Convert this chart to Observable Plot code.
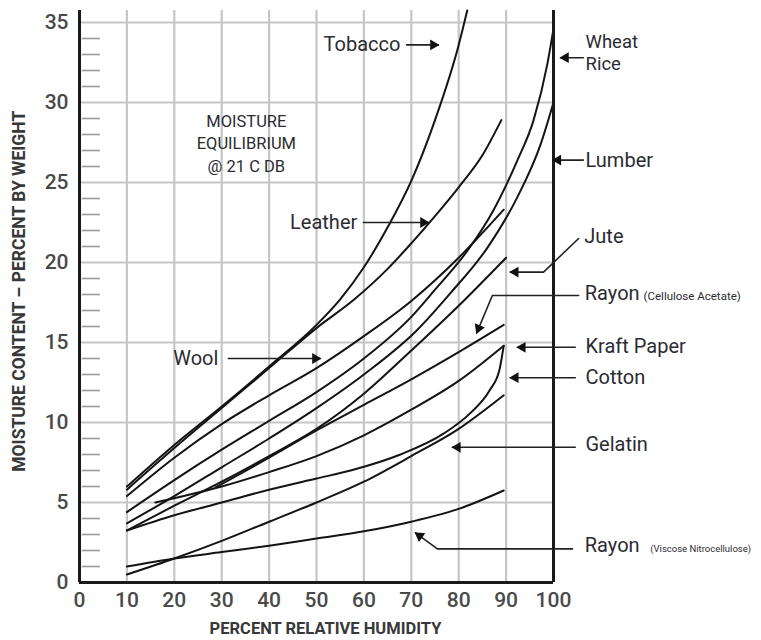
<!DOCTYPE html>
<html><head><meta charset="utf-8">
<script src="https://cdn.jsdelivr.net/npm/d3@7"></script>
<script src="https://cdn.jsdelivr.net/npm/@observablehq/plot@0.6"></script>
<style>body{margin:0;background:#fff}svg{display:block}</style>
</head><body><div id="chart"></div>
<script>
// ---- curve data: [relative humidity %, moisture content %] ----
const tobacco = [[10,6.0],[20,8.6],[30,11.0],[40,13.5],[50,16.1],[55,17.7],[60,19.7],[65,22.2],[70,25.1],[75,28.9],[80,33.6],[81.8,35.75]];
const leather = [[10,5.8],[20,8.4],[30,10.9],[40,13.4],[50,15.9],[58,17.7],[65,19.6],[70,21.2],[75,22.9],[80,24.7],[85,26.7],[89,28.9]];
const wool    = [[10,5.4],[20,7.8],[30,9.9],[40,11.7],[50,13.4],[60,15.4],[70,17.6],[80,20.3],[89.5,23.3]];
const wheat   = [[10,4.4],[20,6.4],[30,8.3],[40,10.1],[50,11.9],[60,14.0],[70,16.6],[75,18.3],[82,20.8],[87.4,23.3],[92.4,26.4],[95.8,28.9],[98.7,32.4],[100,34.6]];
const lumber  = [[10,3.7],[20,5.4],[30,7.2],[40,9.0],[50,10.9],[60,13.0],[71.3,15.8],[78.3,18.1],[86,20.9],[92.4,24.1],[97.3,27.4],[100,30.0]];
const jute    = [[10,3.25],[20,4.8],[30,6.3],[40,7.9],[50,9.6],[60,11.8],[70,14.5],[80,17.3],[90,20.3]];
const rayonCA = [[28.7,5.95],[40,7.8],[50,9.5],[60,11.1],[70,12.7],[80,14.4],[89.5,16.1]];
const kraft   = [[16,5.0],[30,6.0],[40,6.9],[50,7.9],[60,9.2],[70,10.8],[80,12.6],[89.5,14.8]];
const cotton  = [[10,3.25],[20,4.2],[30,5.0],[40,5.8],[50,6.5],[57.2,7.0],[67.7,8.0],[76.8,9.3],[82.5,10.6],[86.5,12.0],[88.6,13.3],[89.5,14.8]];
const gelatin = [[10,0.5],[20,1.5],[30,2.6],[40,3.8],[50,5.0],[60,6.3],[70,7.9],[80,9.6],[89.5,11.7]];
const rayonVN = [[10,1.0],[20,1.5],[30,1.9],[40,2.3],[50,2.75],[60,3.2],[70,3.8],[80,4.6],[89.5,5.75]];

const curves = [["Tobacco",tobacco],["Leather",leather],["Wool",wool],["Wheat",wheat],["Lumber",lumber],["Jute",jute],["RayonCA",rayonCA],["Kraft",kraft],["Cotton",cotton],["Gelatin",gelatin],["RayonVN",rayonVN]];
const curveRows = curves.flatMap(([name, pts]) => pts.map(([rh, mc]) => ({name, rh, mc})));

// ---- ticks ----
const xTicks = [0,10,20,30,40,50,60,70,80,90,100];
const yTicks = [0,5,10,15,20,25,30,35];
const minorY = d3.range(1,36).filter(d => d % 5 !== 0);

// ---- annotation texts (in data coordinates) ----
const leftLabels = [
  {t:"Tobacco", x:67.7, y:33.6},
  {t:"Leather", x:58.6, y:22.5},
  {t:"Wool",    x:29.3, y:14.0}
];
const noteLines = [
  {t:"MOISTURE",    x:35.2, y:28.8},
  {t:"EQUILIBRIUM", x:35.2, y:27.44},
  {t:"@ 21 C DB",   x:35.2, y:26.0}
];
const rightLabels = [
  {t:"Lumber",      x:106.75, y:26.4},
  {t:"Jute",        x:106.5,  y:21.6},
  {t:"Rayon",       x:106.6,  y:18.06},
  {t:"Kraft Paper", x:106.75, y:14.75},
  {t:"Cotton",      x:106.75, y:12.8},
  {t:"Gelatin",     x:106.75, y:8.6},
  {t:"Rayon",       x:106.6,  y:2.3}
];
const stackedLabels = [
  {t:"Wheat", x:106.75, y:33.8},
  {t:"Rice",  x:106.75, y:32.4}
];
const smallLabels = [
  {t:"(Cellulose Acetate)", x:119.0, y:17.86, size:11.5},
  {t:"(Viscose Nitrocellulose)", x:120.4, y:2.12, size:9.5}
];
const arrows = [
  ["tobacco", [[69.0,33.6],[75.7,33.6]]],
  ["leather", [[59.9,22.5],[73.6,22.5]]],
  ["wool",    [[31.4,14.0],[50.8,14.0]]],
  ["wheat",   [[106.3,32.8],[101.5,32.8]]],
  ["lumber",  [[106.3,26.4],[99.9,26.4]]],
  ["jute",    [[105.3,21.5],[97.9,19.4],[90.9,19.4]]],
  ["rayonCA", [[105.3,17.94],[87.1,17.94],[83.8,15.6]]],
  ["kraft",   [[104.6,14.7],[92.4,14.7]]],
  ["cotton",  [[104.6,12.8],[90.9,12.8]]],
  ["gelatin", [[104.6,8.45],[78.7,8.45]]],
  ["rayonVN", [[104.0,2.1],[75.5,2.1],[70.9,3.1]]]
];

const W = 761, H = 640, ML = 79, MR = 208, MT = 10, MB = 58;
const xDomain = [0,100], yDomain = [0,35.75];
const sx = Plot.scale({x:{domain:xDomain, range:[ML, W-MR]}});
const sy = Plot.scale({y:{domain:yDomain, range:[H-MB, MT]}});

const arrowRows = arrows.flatMap(([id, pts]) => pts.map(([x,y]) => ({id, x, y})));
const heads = arrows.map(([id, pts]) => {
  const [x0,y0] = pts[pts.length-2], [x1,y1] = pts[pts.length-1];
  const p0 = [sx.apply(x0), sy.apply(y0)], p1 = [sx.apply(x1), sy.apply(y1)];
  const dx = p1[0]-p0[0], dy = p1[1]-p0[1], L = Math.hypot(dx,dy);
  const ux = dx/L, uy = dy/L;
  const cx = p1[0]-ux*5, cy = p1[1]-uy*5;
  return {x: sx.invert(cx), y: sy.invert(cy), rotate: Math.atan2(ux, -uy)*180/Math.PI};
});

const font = "Roboto, 'Open Sans', sans-serif";
const chart = Plot.plot({
  width: W, height: H,
  marginLeft: ML, marginRight: MR, marginTop: MT, marginBottom: MB,
  x: {domain: xDomain, axis: null},
  y: {domain: yDomain, axis: null},
  style: {fontFamily: font, background: "#fff", color: "#444"},
  marks: [
    Plot.ruleX(xTicks.filter(d => d > 0 && d < 100), {stroke:"#c6c6c6", strokeWidth:2.2}),
    Plot.ruleY(yTicks.filter(d => d > 0), {stroke:"#c6c6c6", strokeWidth:2.2}),
    Plot.ruleY(minorY, {x1:0.6, x2:4.4, stroke:"#9a9a9a", strokeWidth:1.6}),
    Plot.line(curveRows, {x:"rh", y:"mc", z:"name", curve:"monotone-x", stroke:"#141414", strokeWidth:2}),
    Plot.ruleX([0], {stroke:"#1a1a1a", strokeWidth:3}),
    Plot.ruleX([100], {stroke:"#1a1a1a", strokeWidth:3}),
    Plot.ruleY([0], {stroke:"#1a1a1a", strokeWidth:3}),
    Plot.axisY(yTicks, {anchor:"left", tickSize:0, tickPadding:11, fontSize:21, fontWeight:500, fill:"#4a4a4a", label:null}),
    Plot.axisX(xTicks, {anchor:"bottom", tickSize:0, tickPadding:10, fontSize:21, fontWeight:500, fill:"#4a4a4a", label:null}),
    Plot.text(["MOISTURE CONTENT – PERCENT BY WEIGHT"], {x:-12.6, y:18.2, rotate:-90, fontSize:17.5, fontWeight:700, fill:"#383838"}),
    Plot.text(["PERCENT RELATIVE HUMIDITY"], {x:51.9, y:-2.875, fontSize:16.5, fontWeight:700, fill:"#383838"}),
    Plot.line(arrowRows, {x:"x", y:"y", z:"id", stroke:"#222", strokeWidth:1.6}),
    Plot.dot(heads, {x:"x", y:"y", rotate:"rotate", symbol:"triangle", r:4, fill:"#111", stroke:"none"}),
    Plot.text(leftLabels, {x:"x", y:"y", text:"t", textAnchor:"end", fontSize:20, fill:"#2b2b33"}),
    Plot.text(noteLines, {x:"x", y:"y", text:"t", fontSize:16.5, fill:"#2b2b33"}),
    Plot.text(rightLabels, {x:"x", y:"y", text:"t", textAnchor:"start", fontSize:20, fill:"#2b2b33"}),
    Plot.text(stackedLabels, {x:"x", y:"y", text:"t", textAnchor:"start", fontSize:18.5, fill:"#2b2b33"}),
    Plot.text(smallLabels, {x:"x", y:"y", text:"t", textAnchor:"start", fontSize:d => d.size, fill:"#2b2b33"})
  ]
});
document.getElementById("chart").appendChild(chart);
</script>
</body></html>
